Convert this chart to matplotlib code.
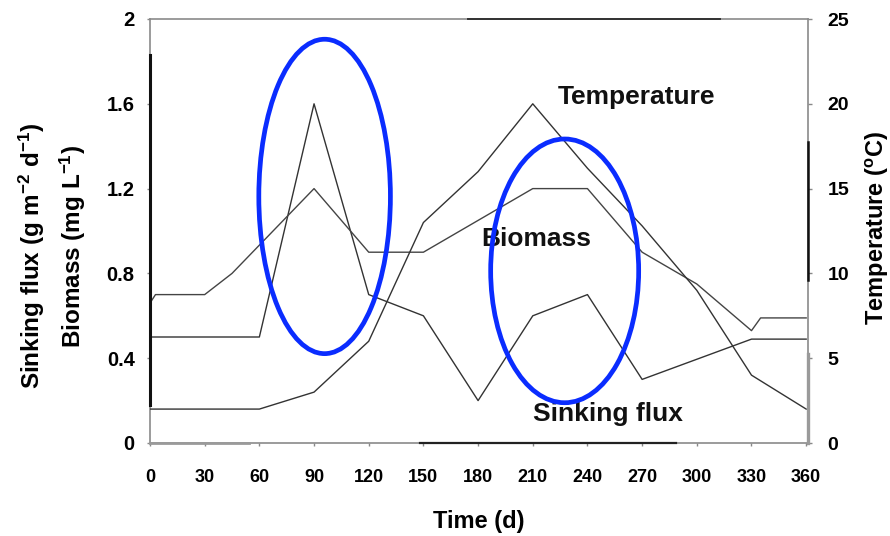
import matplotlib
matplotlib.use("Agg")
import matplotlib.pyplot as plt
from matplotlib.patches import Ellipse

plt.rcParams['font.family'] = ['Liberation Sans', 'DejaVu Sans']
plt.rcParams['mathtext.fontset'] = 'custom'
plt.rcParams['mathtext.rm'] = 'Liberation Sans:bold'
plt.rcParams['mathtext.default'] = 'rm'

# ---- data ----
days_sink = [0, 60, 90, 120, 150, 180, 210, 240, 270, 330, 360]
sinking_flux = [0.50, 0.50, 1.60, 0.70, 0.60, 0.20, 0.60, 0.70, 0.30, 0.49, 0.49]

days_bio = [0, 3, 30, 45, 90, 120, 150, 210, 240, 270, 300, 330, 335, 360]
biomass = [0.66, 0.70, 0.70, 0.80, 1.20, 0.90, 0.90, 1.20, 1.20, 0.90, 0.75, 0.53, 0.59, 0.59]

days_temp = [0, 60, 90, 120, 150, 180, 210, 240, 270, 300, 330, 360]
temperature = [2.0, 2.0, 3.0, 6.0, 13.0, 16.0, 20.0, 16.2, 12.8, 9.0, 4.0, 2.0]

x_ticks = [0, 30, 60, 90, 120, 150, 180, 210, 240, 270, 300, 330, 360]
left_ticks = [0, 0.4, 0.8, 1.2, 1.6, 2]
left_ticklabels = ['0', '0.4', '0.8', '1.2', '1.6', '2']
right_ticks = [0, 5, 10, 15, 20, 25]

# highlight ellipses (center day, center value, width days, height value)
ellipse_cx = [95.8, 227.5]
ellipse_cy = [1.163, 0.812]
ellipse_w = [72.2, 81.2]
ellipse_h = [1.483, 1.244]

fig = plt.figure(figsize=(8.9, 5.36), dpi=100)
ax = fig.add_axes([150/890, 93/536, 658/890, 424/536])
ax2 = ax.twinx()

line_col = '#333333'
ax.plot(days_sink, sinking_flux, color=line_col, lw=1.0)
ax.plot(days_bio, biomass, color='#444444', lw=1.0)
ax2.plot(days_temp, temperature, color=line_col, lw=1.0)

ax.set_xlim(0, 361)
ax.set_ylim(0, 2)
ax2.set_ylim(0, 25)

ax.set_xticks(x_ticks)
ax.set_xticklabels([str(t) for t in x_ticks], fontsize=13, fontweight='bold')
ax.set_yticks(left_ticks)
ax.set_yticklabels(left_ticklabels, fontsize=14.5, fontweight='bold')
ax2.set_yticks(right_ticks)
ax2.set_yticklabels([str(t) for t in right_ticks], fontsize=14, fontweight='bold')

ax.tick_params(axis='x', length=2, width=1, color='#888888', pad=17)
ax.tick_params(axis='y', length=2, width=1, color='#888888', pad=9)
ax2.tick_params(axis='y', length=3, width=1, color='#888888', pad=11)

spine_col = '#8a8a8a'
for a in (ax, ax2):
    for s in a.spines.values():
        s.set_color(spine_col)
        s.set_linewidth(1.2)
ax2.spines['left'].set_visible(False)
ax2.spines['top'].set_visible(False)
ax2.spines['bottom'].set_visible(False)
ax.spines['right'].set_visible(False)

# scan-like darker spine segments
seg = dict(clip_on=False, zorder=6)
ax2.axvline(0, ymin=0.09, ymax=0.915, color='#111111', lw=2.2, **seg)
ax2.axhline(25, xmin=0.483, xmax=0.866, color='#333333', lw=1.4, **seg)
ax2.axhline(0, xmin=0.41, xmax=0.80, color='#222222', lw=1.6, **seg)
ax2.axhline(0, xmin=0.0, xmax=0.15, color='#9a9a9a', lw=2.0, **seg)
ax2.axvline(361, ymin=0.384, ymax=0.71, color='#111111', lw=1.8, **seg)
ax2.axvline(361, ymin=0.0, ymax=0.21, color='#9a9a9a', lw=2.4, **seg)

# in-plot labels
lab_font = dict(fontsize=19, fontweight='bold', color='#111111')
ax.text(223.9, 1.599, 'Temperature', ha='left', va='baseline', **lab_font)
ax.text(181.7, 0.929, 'Biomass', ha='left', va='baseline', **lab_font)
ax.text(210.2, 0.105, 'Sinking flux', ha='left', va='baseline', **lab_font)

# axis labels
ax.set_xlabel('Time (d)', fontsize=17, fontweight='bold', labelpad=17)
fig.text(32/890, 1 - 256/536, 'Sinking flux (g m$^{-2}$ d$^{-1}$)', rotation=90,
         ha='center', va='center', fontsize=17.5, fontweight='bold')
fig.text(73/890, 1 - 247/536, 'Biomass (mg L$^{-1}$)', rotation=90,
         ha='center', va='center', fontsize=17.5, fontweight='bold')
fig.text(877/890, 1 - 228/536, 'Temperature ($^{o}$C)', rotation=90,
         ha='center', va='center', fontsize=17, fontweight='bold')

# blue highlight ellipses
for cx, cy, w, h in zip(ellipse_cx, ellipse_cy, ellipse_w, ellipse_h):
    e = Ellipse((cx, cy), w, h, transform=ax.transData, fill=False,
                edgecolor='#0a2cff', lw=3.4, zorder=10)
    ax2.add_patch(e)

fig.savefig('out.png', dpi=100)
